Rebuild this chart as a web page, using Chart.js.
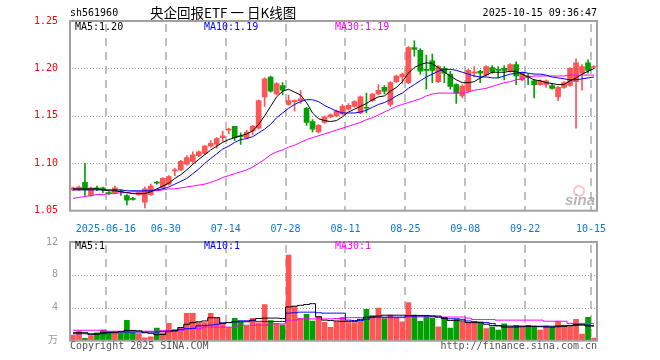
<!DOCTYPE html>
<html>
<head>
<meta charset="utf-8">
<script src="https://cdn.jsdelivr.net/npm/chart.js@4.4.1/dist/chart.umd.min.js"></script>
<style>
html, body { margin: 0; padding: 0; background: #fff; }
#wrap { position: relative; width: 660px; height: 360px; }
#kline { position: absolute; left: 0; top: 0; }
#volume { position: absolute; left: 0; top: 232px; }
</style>
</head>
<body>
<div id="wrap">
  <canvas id="kline" width="660" height="232"></canvas>
  <canvas id="volume" width="660" height="128"></canvas>
</div>
<script>
// trading days shown on the chart
var dates = [
  '2025-06-06','2025-06-09','2025-06-10','2025-06-11','2025-06-12','2025-06-13','2025-06-16','2025-06-17','2025-06-18','2025-06-19',
  '2025-06-20','2025-06-23','2025-06-24','2025-06-25','2025-06-26','2025-06-27','2025-06-30',
  '2025-07-01','2025-07-02','2025-07-03','2025-07-04','2025-07-07','2025-07-08','2025-07-09','2025-07-10','2025-07-11','2025-07-14',
  '2025-07-15','2025-07-16','2025-07-17','2025-07-18','2025-07-21','2025-07-22','2025-07-23','2025-07-24','2025-07-25','2025-07-28',
  '2025-07-29','2025-07-30','2025-07-31',
  '2025-08-01','2025-08-04','2025-08-05','2025-08-06','2025-08-07','2025-08-08','2025-08-11','2025-08-12','2025-08-13','2025-08-14',
  '2025-08-15','2025-08-18','2025-08-19','2025-08-20','2025-08-21','2025-08-22','2025-08-25','2025-08-26','2025-08-27','2025-08-28','2025-08-29',
  '2025-09-01','2025-09-02','2025-09-03','2025-09-04','2025-09-05','2025-09-08','2025-09-09','2025-09-10','2025-09-11','2025-09-12',
  '2025-09-15','2025-09-16','2025-09-17','2025-09-18','2025-09-19','2025-09-22','2025-09-23','2025-09-24','2025-09-25','2025-09-26',
  '2025-09-29','2025-09-30',
  '2025-10-09','2025-10-10','2025-10-13','2025-10-14','2025-10-15'
];

// which categories carry a date label / dashed line
var tickIdx = [6, 16, 26, 36, 46, 56, 66, 76, 87];
var tickText = ['2025-06-16', '06-30', '07-14', '07-28', '08-11', '08-25', '09-08', '09-22', '10-15'];
var priceGrid = [1.10, 1.15, 1.20];
var volGrid = [4, 8];

var openP = [1.072,1.072,1.080,1.066,1.074,1.074,1.069,1.069,1.071,1.066,
  1.063,1.067,1.059,1.067,1.080,1.074,1.078,1.092,1.093,1.099,
  1.102,1.108,1.110,1.118,1.120,1.127,1.135,1.139,1.129,1.127,
  1.134,1.137,1.170,1.191,1.173,1.182,1.162,1.165,1.166,1.158,
  1.144,1.133,1.143,1.149,1.150,1.152,1.157,1.160,1.153,1.159,
  1.166,1.173,1.180,1.162,1.186,1.191,1.185,1.222,1.219,1.199,
  1.208,1.186,1.200,1.194,1.183,1.171,1.176,1.195,1.197,1.193,
  1.201,1.199,1.200,1.197,1.204,1.188,1.192,1.187,1.183,1.183,
  1.182,1.170,1.180,1.182,1.186,1.195,1.206,1.201];
var highP = [1.075,1.076,1.100,1.075,1.076,1.075,1.070,1.076,1.072,1.067,
  1.064,1.070,1.075,1.078,1.081,1.085,1.087,1.095,1.103,1.108,
  1.112,1.113,1.119,1.124,1.127,1.134,1.137,1.139,1.132,1.135,
  1.140,1.167,1.190,1.192,1.185,1.185,1.172,1.167,1.177,1.159,
  1.146,1.141,1.150,1.152,1.156,1.162,1.163,1.166,1.171,1.174,
  1.174,1.183,1.182,1.186,1.193,1.195,1.223,1.229,1.221,1.214,
  1.215,1.203,1.202,1.197,1.184,1.183,1.199,1.202,1.198,1.203,
  1.203,1.202,1.203,1.205,1.207,1.196,1.194,1.188,1.188,1.188,
  1.184,1.181,1.186,1.201,1.210,1.204,1.209,1.203];
var lowP = [1.071,1.071,1.066,1.065,1.071,1.069,1.067,1.068,1.066,1.056,
  1.061,1.066,1.053,1.066,1.078,1.073,1.077,1.087,1.092,1.098,
  1.101,1.107,1.109,1.117,1.116,1.123,1.131,1.124,1.120,1.126,
  1.130,1.136,1.160,1.175,1.172,1.172,1.161,1.155,1.163,1.140,
  1.133,1.132,1.142,1.148,1.149,1.151,1.156,1.159,1.152,1.153,
  1.165,1.172,1.173,1.160,1.185,1.184,1.184,1.213,1.194,1.178,
  1.185,1.185,1.185,1.178,1.163,1.169,1.175,1.191,1.185,1.192,
  1.195,1.190,1.188,1.196,1.183,1.187,1.183,1.169,1.182,1.180,
  1.178,1.166,1.179,1.181,1.137,1.177,1.195,1.200];
var closeP = [1.074,1.075,1.072,1.074,1.073,1.072,1.068,1.074,1.070,1.061,
  1.062,1.069,1.073,1.076,1.079,1.084,1.086,1.093,1.102,1.106,
  1.109,1.112,1.118,1.121,1.126,1.129,1.136,1.127,1.128,1.133,
  1.139,1.166,1.189,1.176,1.184,1.177,1.166,1.166,1.168,1.143,
  1.136,1.140,1.149,1.151,1.155,1.160,1.161,1.165,1.170,1.158,
  1.173,1.177,1.176,1.185,1.192,1.194,1.222,1.220,1.197,1.198,
  1.198,1.202,1.195,1.181,1.174,1.181,1.198,1.196,1.195,1.202,
  1.196,1.198,1.198,1.204,1.192,1.195,1.191,1.183,1.187,1.187,
  1.179,1.180,1.185,1.200,1.206,1.202,1.198,1.202];

var ma5 = [1.073,1.073,1.073,1.073,1.073,1.072,1.071,1.071,1.070,1.069,
  1.068,1.068,1.068,1.070,1.073,1.076,1.079,1.084,1.088,1.093,
  1.099,1.104,1.109,1.114,1.118,1.122,1.125,1.127,1.129,1.131,
  1.134,1.141,1.150,1.160,1.170,1.176,1.178,1.175,1.172,1.164,
  1.153,1.147,1.145,1.144,1.145,1.149,1.154,1.157,1.160,1.163,
  1.167,1.170,1.171,1.176,1.180,1.186,1.195,1.201,1.204,1.206,
  1.205,1.201,1.196,1.192,1.188,1.185,1.185,1.186,1.190,1.193,
  1.196,1.196,1.196,1.197,1.197,1.194,1.191,1.188,1.187,1.185,
  1.184,1.183,1.183,1.187,1.190,1.194,1.197,1.200];
var ma10 = [1.072,1.072,1.072,1.072,1.072,1.072,1.072,1.072,1.072,1.071,
  1.071,1.071,1.071,1.071,1.072,1.073,1.075,1.078,1.081,1.084,
  1.089,1.094,1.100,1.105,1.110,1.115,1.118,1.122,1.125,1.126,
  1.128,1.132,1.136,1.141,1.148,1.153,1.158,1.162,1.165,1.167,
  1.167,1.165,1.161,1.158,1.155,1.153,1.153,1.153,1.154,1.156,
  1.159,1.162,1.164,1.167,1.171,1.174,1.179,1.183,1.187,1.191,
  1.194,1.197,1.199,1.199,1.198,1.196,1.194,1.192,1.191,1.191,
  1.190,1.190,1.192,1.194,1.195,1.196,1.195,1.194,1.194,1.193,
  1.191,1.190,1.189,1.188,1.188,1.189,1.190,1.191];
var ma30 = [1.063,1.064,1.065,1.066,1.067,1.067,1.068,1.068,1.069,1.069,
  1.070,1.070,1.070,1.071,1.071,1.072,1.073,1.073,1.074,1.075,
  1.076,1.077,1.078,1.080,1.082,1.085,1.087,1.089,1.091,1.093,
  1.096,1.100,1.104,1.109,1.112,1.114,1.117,1.119,1.122,1.125,
  1.127,1.129,1.131,1.133,1.135,1.137,1.139,1.141,1.143,1.146,
  1.148,1.151,1.154,1.157,1.160,1.162,1.164,1.166,1.168,1.171,
  1.173,1.174,1.174,1.174,1.174,1.174,1.175,1.177,1.178,1.179,
  1.181,1.183,1.185,1.186,1.188,1.189,1.191,1.192,1.192,1.192,
  1.192,1.192,1.192,1.193,1.193,1.193,1.193,1.193];

// volume, 万手
var vol = [0.68,1.2,0.3,0.6,0.96,1.28,0.96,0.96,0.96,2.48,
  1.0,0.88,0.36,0.48,1.52,0.96,2.12,1.36,1.48,3.32,
  3.32,2.2,2.2,3.32,2.76,2.0,1.64,2.72,2.24,1.76,
  2.72,2.16,4.4,2.44,2.12,1.92,10.4,4.16,2.72,3.2,
  2.4,2.96,2.24,1.64,2.32,2.84,2.2,2.2,2.36,3.8,
  3.08,3.96,2.68,3.12,2.8,2.28,4.64,3.12,2.36,2.92,
  2.72,1.68,2.76,1.52,2.6,2.28,2.16,2.32,2.12,1.48,
  1.68,1.28,2.04,1.68,1.88,1.76,1.88,1.68,1.28,1.8,
  1.64,2.36,1.68,1.68,2.6,0.8,2.84,0.32];
var volMa5 = [0.97,0.97,0.97,0.73,0.8,0.97,0.97,0.97,1.1,1.25,
  1.25,1.2,0.97,0.9,0.73,0.75,1.1,1.25,1.6,2.0,
  2.2,2.3,2.4,2.8,2.8,2.1,2.2,2.3,2.3,2.3,
  2.5,2.7,2.75,2.75,2.75,2.7,4.1,4.2,4.3,4.4,
  4.5,2.9,2.5,2.45,2.4,2.35,2.35,2.35,2.6,2.85,
  2.9,3.0,3.1,3.1,3.1,3.1,3.05,3.07,3.07,3.07,
  3.0,2.87,2.7,2.46,2.46,2.4,2.2,2.2,2.2,2.0,
  1.86,1.8,1.66,1.66,1.66,1.7,1.74,1.74,1.7,1.66,
  1.66,1.7,1.74,1.8,1.98,1.95,1.78,1.78];
var volMa10 = [0.85,0.85,0.85,0.85,0.85,0.85,1.05,1.05,1.05,1.05,
  1.05,1.05,1.05,1.05,1.05,1.1,1.15,1.17,1.4,1.45,
  1.5,1.8,1.86,1.9,2.0,2.18,2.2,2.3,2.42,2.42,
  2.42,2.35,2.34,2.34,2.34,2.34,3.35,3.4,3.47,3.47,
  3.47,3.4,3.35,3.35,3.35,3.35,2.5,2.46,2.46,2.6,
  2.87,2.87,2.87,2.87,2.87,2.87,3.0,3.0,3.0,3.0,
  3.0,3.0,2.8,2.67,2.67,2.6,2.4,2.3,2.26,2.2,
  2.1,1.85,1.8,1.78,1.78,1.78,1.76,1.76,1.76,1.76,
  1.76,1.8,1.86,1.86,1.86,1.9,1.9,1.86];
var volMa30 = [1.27,1.27,1.27,1.27,1.27,1.27,1.15,1.15,1.15,1.15,
  1.15,1.15,1.15,1.15,1.15,1.25,1.25,1.25,1.25,1.45,
  1.45,1.45,1.65,1.65,1.65,1.65,1.65,1.65,1.88,1.88,
  1.88,1.88,1.88,2.05,2.05,2.05,2.5,2.5,2.65,2.65,
  2.65,2.65,2.65,2.65,2.7,2.7,2.8,2.8,2.8,2.8,
  2.8,2.8,2.8,2.8,2.8,2.8,2.88,2.88,2.88,2.88,
  2.88,2.88,2.88,2.88,2.88,2.88,2.75,2.57,2.57,2.57,
  2.57,2.5,2.5,2.5,2.5,2.5,2.5,2.5,2.5,2.37,
  2.37,2.37,2.37,2.1,2.1,2.1,2.1,2.1];

var priceLegend = ['MA5:1.20', 'MA10:1.19', 'MA30:1.19'];
var volLegend = ['MA5:1', 'MA10:1', 'MA30:1'];

var upColor = '#ff5555', downColor = '#00a000';
var maColors = ['#000000', '#0000ff', '#ff00ff'];
var mono = '"DejaVu Sans Mono", "Noto Sans CJK SC", monospace';

var candleColors = dates.map(function(d, i){
  return closeP[i] >= openP[i] ? upColor : downColor;
});

// dashed date lines and dotted value lines, placed with the chart's own scales
function drawGuides(chart, yLines){
  var a = chart.chartArea, c = chart.ctx;
  var xs = chart.scales.x, ys = chart.scales.y;
  var step = xs.width / dates.length;
  c.save();
  c.fillStyle = '#c0c0c0';
  tickIdx.forEach(function(i){
    var x = Math.round(xs.left + step * i) - 1;
    for (var y = a.top + 3; y < a.bottom; y += 14) {
      c.fillRect(x, Math.round(y), 2, Math.min(8, Math.round(a.bottom - y)));
    }
  });
  c.fillStyle = '#9a9a9a';
  yLines.forEach(function(v){
    var y = Math.round(ys.getPixelForValue(Number(v)));
    for (var x = a.left + 2; x < a.right; x += 3) {
      c.fillRect(Math.round(x), y, 1, 1);
    }
  });
  c.restore();
}

var decorPlugin = {
  id: 'decor',
  beforeDatasetsDraw: function(chart, args, opts){
    drawGuides(chart, opts.yLines || []);
  },
  afterDraw: function(chart, args, opts){
    var a = chart.chartArea, c = chart.ctx;
    c.save();
    c.strokeStyle = '#a0a0a0';
    c.lineWidth = 2;
    c.strokeRect(a.left, a.top, a.right - a.left, a.bottom - a.top);
    (opts.texts || []).forEach(function(t){
      c.font = t.font || ('10px ' + mono);
      c.fillStyle = t.color || '#000';
      c.textAlign = t.align || 'left';
      c.textBaseline = 'middle';
      c.fillText(t.text, t.x, t.y);
    });
    if (opts.logo) {
      c.strokeStyle = 'rgba(255,90,90,0.35)';
      c.lineWidth = 2;
      c.beginPath();
      c.arc(579, 191, 5, 0, Math.PI * 2);
      c.stroke();
      c.font = 'italic bold 15px "Liberation Sans", sans-serif';
      c.fillStyle = 'rgba(120,120,120,0.55)';
      c.textAlign = 'left';
      c.textBaseline = 'alphabetic';
      c.fillText('sina', 565, 205);
    }
    c.restore();
  }
};

function lineSet(label, data, color, stepped){
  return {
    type: 'line', label: label, data: data,
    borderColor: color, borderWidth: 1, pointRadius: 0,
    tension: 0, stepped: stepped || false, order: 0
  };
}

var kChart = new Chart(document.getElementById('kline'), {
  type: 'bar',
  data: {
    labels: dates,
    datasets: [
      {
        label: 'wick',
        data: dates.map(function(d, i){ return [lowP[i], highP[i]]; }),
        backgroundColor: candleColors,
        barThickness: 1, grouped: false, order: 2
      },
      {
        label: 'body',
        data: dates.map(function(d, i){ return [openP[i], closeP[i]]; }),
        backgroundColor: candleColors,
        barThickness: 5, minBarLength: 1, grouped: false, order: 1
      },
      lineSet('MA5', ma5, maColors[0]),
      lineSet('MA10', ma10, maColors[1]),
      lineSet('MA30', ma30, maColors[2])
    ]
  },
  options: {
    responsive: false,
    animation: false,
    layout: { padding: { top: 21, right: 63, left: 0, bottom: 0 } },
    plugins: {
      legend: { display: false },
      tooltip: { enabled: false },
      decor: {
        logo: true,
        yLines: priceGrid,
        texts: [
          { text: 'sh561960', x: 70, y: 13 },
          { text: '央企回报ETF 一 日K线图', x: 150, y: 13, font: '13.5px "Noto Sans CJK SC", sans-serif' },
          { text: '2025-10-15 09:36:47', x: 597, y: 13, align: 'right' },
          { text: priceLegend[0], x: 75, y: 27, color: maColors[0] },
          { text: priceLegend[1], x: 204, y: 27, color: maColors[1] },
          { text: priceLegend[2], x: 335, y: 27, color: maColors[2] }
        ]
      }
    },
    scales: {
      x: {
        offset: true,
        grid: { display: false },
        border: { display: false },
        afterFit: function(s){ s.height = 21.3; },
        ticks: {
          autoSkip: false, maxRotation: 0, minRotation: 0,
          padding: 5, labelOffset: -3,
          color: '#0a78d6',
          font: { family: mono, size: 10 },
          callback: function(v, i){
            var k = tickIdx.indexOf(i);
            return k >= 0 ? tickText[k] : '';
          }
        }
      },
      y: {
        min: 1.05, max: 1.25,
        afterFit: function(s){ s.width = 70; },
        grid: { display: false },
        border: { display: false },
        ticks: {
          stepSize: 0.05, padding: 4,
          color: '#ff0000',
          font: { family: mono, size: 10 },
          callback: function(v){ return Number(v).toFixed(2); }
        }
      }
    }
  },
  plugins: [decorPlugin]
});

var vChart = new Chart(document.getElementById('volume'), {
  type: 'bar',
  data: {
    labels: dates,
    datasets: [
      {
        label: 'vol',
        data: vol,
        backgroundColor: candleColors,
        barThickness: 5, order: 1
      },
      lineSet('MA5', volMa5, maColors[0], 'middle'),
      lineSet('MA10', volMa10, maColors[1], 'middle'),
      lineSet('MA30', volMa30, maColors[2], 'middle')
    ]
  },
  options: {
    responsive: false,
    animation: false,
    layout: { padding: { top: 8, right: 63, left: 0, bottom: 0 } },
    plugins: {
      legend: { display: false },
      tooltip: { enabled: false },
      decor: {
        yLines: volGrid,
        texts: [
          { text: volLegend[0], x: 75, y: 14, color: maColors[0] },
          { text: volLegend[1], x: 204, y: 14, color: maColors[1] },
          { text: volLegend[2], x: 335, y: 14, color: maColors[2] },
          { text: 'Copyright 2025 SINA.COM', x: 70, y: 114, color: '#555' },
          { text: 'http://finance.sina.com.cn', x: 597, y: 114, color: '#555', align: 'right' }
        ]
      }
    },
    scales: {
      x: {
        offset: true,
        grid: { display: false },
        border: { display: false },
        afterFit: function(s){ s.height = 19.3; },
        ticks: { display: false, autoSkip: false, maxRotation: 0 }
      },
      y: {
        min: 0, max: 12,
        afterFit: function(s){ s.width = 70; },
        grid: { display: false },
        border: { display: false },
        ticks: {
          stepSize: 4, padding: 4,
          color: '#999999',
          font: { family: mono, size: 10 },
          callback: function(v){ return v === 0 ? '万' : String(v); }
        }
      }
    }
  },
  plugins: [decorPlugin]
});
</script>
</body>
</html>
